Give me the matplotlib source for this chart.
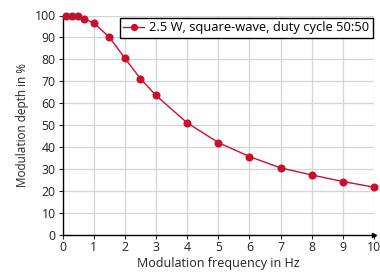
import matplotlib
matplotlib.use("Agg")
import matplotlib.pyplot as plt

freq = [0.1, 0.3, 0.5, 0.7, 1.0, 1.5, 2, 2.5, 3, 4, 5, 6, 7, 8, 9, 10]
depth = [100, 100, 100, 98.5, 96.6, 90.2, 80.5, 71.2, 63.5, 51.0, 42.0, 35.6, 30.4, 27.2, 24.2, 21.6]
xticks = list(range(0, 11))
yticks = list(range(0, 101, 10))
label = "2.5 W, square-wave, duty cycle 50:50"

plt.rcParams['font.family'] = ['Open Sans', 'DejaVu Sans']
fig = plt.figure(figsize=(3.8, 2.73), dpi=100)
ax = fig.add_axes([62.5/380, 1-234.5/273, 311.5/380, 219/273])
color = '#C8102E'
ax.plot(freq, depth, color=color, lw=1.0, marker='o', ms=4.8, clip_on=False, zorder=3, label=label)
ax.set_xlim(0, 10)
ax.set_ylim(0, 100)
ax.set_xticks(xticks)
ax.set_yticks(yticks)
ax.grid(True, color='#d4d4d4', lw=0.9)
ax.set_axisbelow(True)
for s in ['top', 'right']:
    ax.spines[s].set_visible(False)
for s in ['left', 'bottom']:
    ax.spines[s].set_linewidth(1.0)
    ax.spines[s].set_color('black')
ax.plot(1, 0, '>', color='black', ms=3, transform=ax.transAxes, clip_on=False)
ax.tick_params(labelsize=8.8, length=3, width=0.8, pad=2, colors='#222222')
ax.set_xlabel('Modulation frequency in Hz', fontsize=9, labelpad=2, color='#222222')
ax.set_ylabel('Modulation depth in %', fontsize=8.5, labelpad=4, color='#222222')
leg = ax.legend(loc='upper right', fontsize=9.3, frameon=True, fancybox=False,
                edgecolor='black', framealpha=1, borderaxespad=0.0,
                handlelength=1.6, handletextpad=0.4, borderpad=0.28,
                bbox_to_anchor=(0.997, 0.99))
leg.get_frame().set_linewidth(1.0)
leg.legend_handles[0].set_markersize(4.2)
fig.savefig('out.png', dpi=100)
